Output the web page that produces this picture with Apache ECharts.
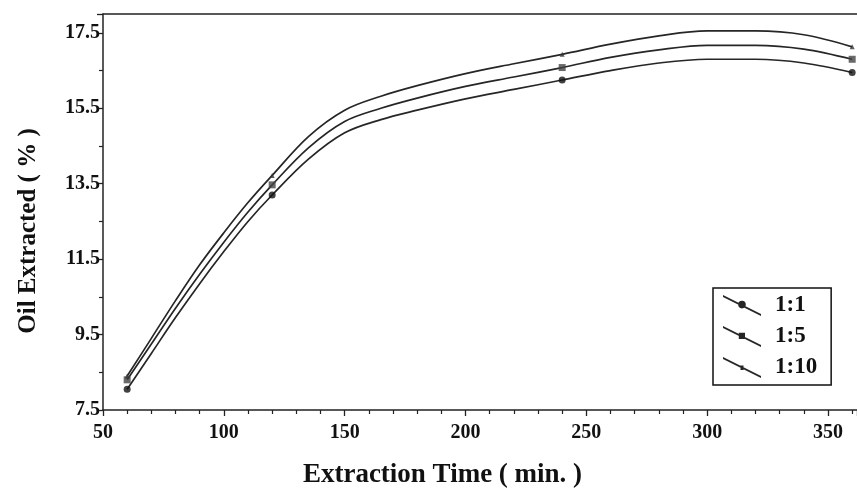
<!DOCTYPE html>
<html>
<head>
<meta charset="utf-8">
<script src="https://cdn.jsdelivr.net/npm/echarts@6/dist/echarts.min.js"></script>
<style>
  html, body { margin: 0; padding: 0; background: #fff; }
  #chart { width: 857px; height: 494px; }
</style>
</head>
<body>
<div id="chart"></div>
<script>
// fitted curves
const curveTime = [60, 70, 80, 90, 100, 110, 120, 135, 150, 165, 180, 200, 220, 240, 260, 280, 300, 320, 340, 360]
const curve11 = [8.05, 9.0, 9.95, 10.85, 11.7, 12.5, 13.2, 14.15, 14.85, 15.2, 15.45, 15.75, 16.0, 16.25, 16.5, 16.7, 16.8, 16.8, 16.7, 16.45]
const curve15 = [8.3, 9.25, 10.2, 11.1, 11.95, 12.75, 13.47, 14.45, 15.15, 15.5, 15.77, 16.08, 16.33, 16.58, 16.85, 17.05, 17.17, 17.17, 17.07, 16.8]
const curve110 = [8.4, 9.4, 10.4, 11.35, 12.2, 13.0, 13.72, 14.75, 15.45, 15.82, 16.1, 16.42, 16.68, 16.93, 17.2, 17.42, 17.55, 17.55, 17.45, 17.13]

// measured points
const sampleTime = [60, 120, 240, 360]
const sample11 = [8.05, 13.2, 16.25, 16.45]
const sample15 = [8.3, 13.47, 16.58, 16.8]
const sample110 = [8.4, 13.72, 16.93, 17.13]

const ratioNames = ['1:1', '1:5', '1:10']

const FONT = '"Liberation Serif", "DejaVu Serif", serif'
const lineColor = '#262626'

function pairs(xs, ys) {
  return xs.map((x, i) => [x, ys[i]])
}

// legend icons: a slanted line with the marker in the middle
const iconLine = 'M0,0 L38,19 L38,21 L0,2 Z'
const legendIcons = [
  'path://' + iconLine + ' M15.2,9.6 A3.8,3.8 0 1,1 22.8,9.6 A3.8,3.8 0 1,1 15.2,9.6 Z',
  'path://' + iconLine + ' M15.8,6.8 L22,6.8 L22,13 L15.8,13 Z',
  'path://' + iconLine + ' M17.5,8.5 L20.5,8.5 L20.5,13 L17.5,13 Z',
]

const chart = echarts.init(document.getElementById('chart'))

const curves = [curve11, curve15, curve110]
const samples = [sample11, sample15, sample110]
const symbols = ['circle', 'rect', 'triangle']
const symbolSizes = [7, 7, 5]
const markerColors = ['#111', '#444', '#333']

const series = []
ratioNames.forEach((name, i) => {
  series.push({
    name: name,
    type: 'line',
    data: pairs(curveTime, curves[i]),
    smooth: 0.35,
    showSymbol: false,
    lineStyle: { width: 1.7, color: lineColor },
    itemStyle: { color: lineColor },
    z: 2,
  })
  series.push({
    name: name + ' pts',
    type: 'scatter',
    data: pairs(sampleTime, samples[i]),
    symbol: symbols[i],
    symbolSize: symbolSizes[i],
    itemStyle: { color: markerColors[i] },
    z: 3,
  })
})

const axisText = { fontFamily: FONT, fontWeight: 'bold', fontSize: 20, color: '#111' }

const option = {
  animation: false,
  backgroundColor: '#fff',
  grid: { left: 103, top: 14, bottom: 83, right: -3 },
  legend: {
    orient: 'vertical',
    left: 713,
    top: 288,
    data: ratioNames.map((n, i) => ({ name: n, icon: legendIcons[i] })),
    itemWidth: 38,
    itemHeight: 21,
    itemGap: 8,
    padding: [6, 14, 6, 10],
    borderColor: '#111',
    borderWidth: 1.5,
    backgroundColor: '#fff',
    textStyle: {
      fontFamily: FONT, fontWeight: 'bold', fontSize: 23, color: '#111',
      padding: [0, 0, 0, 9],
    },
  },
  xAxis: [
    {
      type: 'value',
      min: 50,
      max: 362,
      interval: 50,
      name: 'Extraction Time ( min. )',
      nameLocation: 'middle',
      nameGap: 52,
      nameTextStyle: {
        fontFamily: FONT, fontWeight: 'bold', fontSize: 27, color: '#111',
        padding: [0, 75, 0, 0],
      },
      axisLine: { onZero: false, lineStyle: { color: '#222', width: 1.5 } },
      axisTick: { length: 6, lineStyle: { color: '#222', width: 1.3 } },
      minorTick: { show: true, splitNumber: 5, length: 4, lineStyle: { color: '#222', width: 1.2 } },
      splitLine: { show: false },
      axisLabel: Object.assign({ showMaxLabel: false, margin: 13 }, axisText),
    },
    {
      // top frame line only
      type: 'value',
      position: 'top',
      min: 50,
      max: 362,
      axisLine: { show: true, onZero: false, lineStyle: { color: '#222', width: 1.5 } },
      axisTick: { show: false },
      axisLabel: { show: false },
      splitLine: { show: false },
    },
  ],
  yAxis: {
    type: 'value',
    min: 7.5,
    max: 18,
    interval: 2,
    name: 'Oil Extracted ( % )',
    nameLocation: 'middle',
    nameGap: 62,
    nameTextStyle: {
      fontFamily: FONT, fontWeight: 'bold', fontSize: 25, color: '#111',
      padding: [0, 38, 0, 0],
    },
    axisLine: { onZero: false, lineStyle: { color: '#222', width: 1.5 } },
    axisTick: { length: 6, lineStyle: { color: '#222', width: 1.3 } },
    minorTick: { show: true, splitNumber: 2, length: 4, lineStyle: { color: '#222', width: 1.2 } },
    splitLine: { show: false },
    axisLabel: Object.assign({ showMaxLabel: false, margin: 3 }, axisText),
  },
  series: series,
}

chart.setOption(option)
</script>
</body>
</html>
